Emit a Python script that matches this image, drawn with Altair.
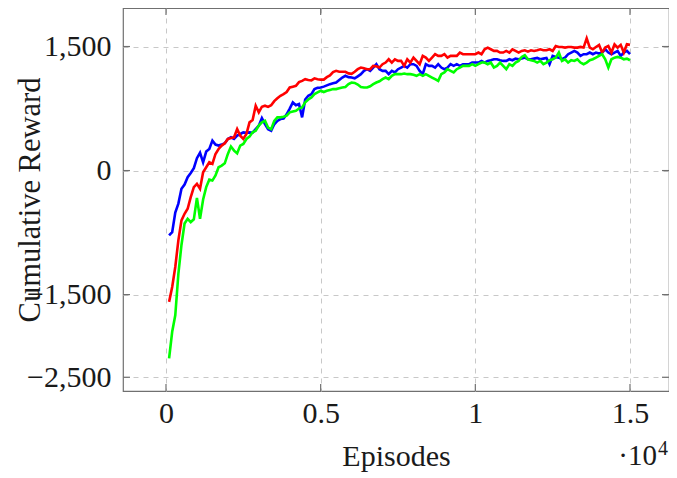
import altair as alt
import pandas as pd

episodes = list(range(100, 15001, 100))

red = [-1588, -1407, -1166, -844, -603, -523, -462, -322, -201, -161, -221, -20, 40, 100, 80, 201,
       261, 302, 330, 382, 394, 402, 502, 422, 382, 442, 583, 611, 784, 704, 772, 784,
       770, 790, 840, 875, 905, 925, 950, 1005, 1015, 1025, 1070, 1085, 1105, 1095, 1090, 1115,
       1105, 1100, 1100, 1130, 1150, 1190, 1206, 1195, 1195, 1195, 1175, 1170, 1195, 1226, 1246,
       1236, 1226, 1226, 1266, 1262, 1246,
       1286, 1306, 1346, 1306, 1346, 1326, 1326, 1266, 1346, 1306, 1366, 1326, 1286, 1387, 1366,
       1326, 1366, 1407, 1387, 1387, 1407, 1366, 1387, 1387, 1387, 1427, 1407, 1407, 1407, 1407,
       1407, 1427, 1407, 1467, 1487, 1467, 1447, 1447, 1427, 1427,
       1447, 1427, 1467, 1447, 1427, 1447, 1455, 1439, 1455, 1447, 1455, 1467, 1455, 1455, 1467,
       1447, 1507, 1495, 1495, 1487, 1495, 1495, 1487, 1487, 1495, 1487, 1600, 1487, 1467, 1495,
       1520, 1427, 1487, 1507, 1427, 1527, 1487, 1520, 1427, 1527, 1520]

blue = [-784, -744, -507, -400, -221, -170, -80, -30, 30, 150, 215, 100, 230, 261, 362, 314,
        302, 314, 330, 382, 402, 382, 422, 442, 462, 458, 462, 458, 502, 543, 635, 563,
        500, 482, 560, 600, 623, 630, 680, 750, 824, 790, 805, 643, 860, 905, 925, 985, 1000,
        1005, 1015, 1030, 1045, 1055, 1065, 1095, 1125, 1146, 1130, 1125, 1115, 1140, 1166, 1206,
        1226, 1206, 1246, 1286, 1226,
        1206, 1206, 1166, 1206, 1186, 1226, 1246, 1266, 1246, 1286, 1286, 1266, 1206, 1166, 1286,
        1266, 1266, 1246, 1286, 1246, 1226, 1246, 1286, 1266, 1286, 1266, 1286, 1286, 1286, 1306,
        1306, 1306, 1326, 1306, 1326, 1334, 1346, 1346, 1334, 1326,
        1326, 1346, 1334, 1354, 1346, 1354, 1366, 1346, 1346, 1354, 1362, 1346, 1354, 1362, 1286,
        1387, 1374, 1366, 1346, 1366, 1407, 1427, 1447, 1427, 1387, 1407, 1407, 1427, 1407, 1427,
        1415, 1427, 1467, 1427, 1407, 1427, 1447, 1387, 1427, 1447, 1407]

green = [-2271, -1950, -1750, -1250, -900, -640, -583, -623, -590, -330, -583, -350, -200, -110,
         -121, -60, 40, 60, 88, 201, 290, 241, 209, 302, 322, 382, 410, 462, 482, 543, 583, 603,
         520, 500, 600, 643, 643, 650, 663, 704, 714, 724, 750, 764, 824, 860, 885, 925, 945, 965,
         950, 965, 975, 985, 985, 995, 1005, 1010, 1045, 1065, 1060, 1040, 1010, 1005, 1005, 1020,
         1045, 1065, 1080,
         1105, 1125, 1105, 1146, 1166, 1166, 1166, 1174, 1166, 1166, 1158, 1146, 1166, 1146, 1166,
         1146, 1125, 1105, 1085, 1166, 1186, 1226, 1206, 1186, 1226, 1246, 1266, 1266, 1266, 1286,
         1266, 1286, 1306, 1306, 1286, 1306, 1246, 1266, 1306, 1266,
         1226, 1286, 1266, 1306, 1326, 1374, 1395, 1346, 1334, 1326, 1306, 1326, 1286, 1306, 1334,
         1346, 1366, 1427, 1326, 1346, 1306, 1334, 1326, 1346, 1306, 1286, 1306, 1334, 1346, 1366,
         1387, 1407, 1346, 1246, 1346, 1366, 1374, 1366, 1346, 1354, 1334]

series_names = ["blue", "red", "green"]
series_colors = ["#0000ff", "#ff0000", "#00ff00"]
x_ticks = [0, 5000, 10000, 15000]
y_ticks = [-2500, -1500, 0, 1500]

rows = []
for name, vals in zip(series_names, [blue, red, green]):
    for e, v in zip(episodes, vals):
        rows.append({"episode": e, "reward": v, "series": name})
df = pd.DataFrame(rows)

FONT = "Liberation Serif"
TXT = "#1a1a1a"
FRAME = "#707070"
W, H = 546, 383

xscale = alt.Scale(domain=[-1390, 16261], nice=False, zero=False)
yscale = alt.Scale(domain=[-2666, 1966], nice=False, zero=False)

xaxis = alt.Axis(
    values=x_ticks, labelExpr="'' + datum.value / 10000", grid=True,
    gridDash=[5, 5], gridColor="#c8c8c8", gridWidth=1, ticks=False, domain=False,
    labelFont=FONT, labelFontSize=30, labelPadding=7, labelFlush=False, labelColor=TXT,
    labelOverlap=False,
    title="Episodes", titleFont=FONT, titleFontSize=30, titleFontWeight="normal",
    titleColor=TXT, titleBaseline="alphabetic", titleY=74)
yaxis = alt.Axis(
    values=y_ticks, labelExpr="format(datum.value, ',')", grid=True, gridDash=[5, 5],
    gridColor="#c8c8c8", gridWidth=1, ticks=False, domain=False, labelFont=FONT,
    labelFontSize=30, labelPadding=12, labelColor=TXT, labelOverlap=False,
    title="Cumulative Reward", titleFont=FONT, titleFontSize=30.5,
    titleFontWeight="normal", titleColor=TXT, titleBaseline="alphabetic", titleX=-84)

lines = alt.Chart(df).mark_line(strokeWidth=2.6).encode(
    x=alt.X("episode:Q", scale=xscale, axis=xaxis),
    y=alt.Y("reward:Q", scale=yscale, axis=yaxis),
    color=alt.Color("series:N", scale=alt.Scale(domain=series_names, range=series_colors),
                    legend=None),
)

xt = pd.DataFrame({"episode": x_ticks})
yt = pd.DataFrame({"reward": y_ticks})

xtick_b = alt.Chart(xt).mark_rule(color=FRAME, strokeWidth=1.2).encode(
    x=alt.X("episode:Q", scale=xscale, axis=xaxis), y=alt.value(H), y2=alt.value(H - 7))
xtick_t = alt.Chart(xt).mark_rule(color=FRAME, strokeWidth=1.2).encode(
    x=alt.X("episode:Q", scale=xscale, axis=xaxis), y=alt.value(0), y2=alt.value(7))
ytick_l = alt.Chart(yt).mark_rule(color=FRAME, strokeWidth=1.2).encode(
    y=alt.Y("reward:Q", scale=yscale, axis=yaxis), x=alt.value(0), x2=alt.value(7))
ytick_r = alt.Chart(yt).mark_rule(color=FRAME, strokeWidth=1.2).encode(
    y=alt.Y("reward:Q", scale=yscale, axis=yaxis), x=alt.value(W), x2=alt.value(W - 7))

mult = alt.Chart(pd.DataFrame({"s": ["\u00b710"]})).mark_text(
    font=FONT, fontSize=29, color=TXT, align="right", baseline="alphabetic").encode(
    text="s:N", x=alt.value(534), y=alt.value(457))
expo = alt.Chart(pd.DataFrame({"s": ["4"]})).mark_text(
    font=FONT, fontSize=20, color=TXT, align="left", baseline="alphabetic").encode(
    text="s:N", x=alt.value(535), y=alt.value(447))

chart = alt.layer(lines, xtick_b, xtick_t, ytick_l, ytick_r, mult, expo).resolve_scale(
    x="shared", y="shared"
).properties(
    width=W, height=H,
    autosize=alt.AutoSizeParams(type="none"),
    padding={"left": 115, "top": 0, "right": 0, "bottom": 86},
    background="white",
).configure_view(stroke=FRAME, strokeWidth=1.2)

chart.save("out.html", embed_options={"renderer": "svg", "actions": False})
